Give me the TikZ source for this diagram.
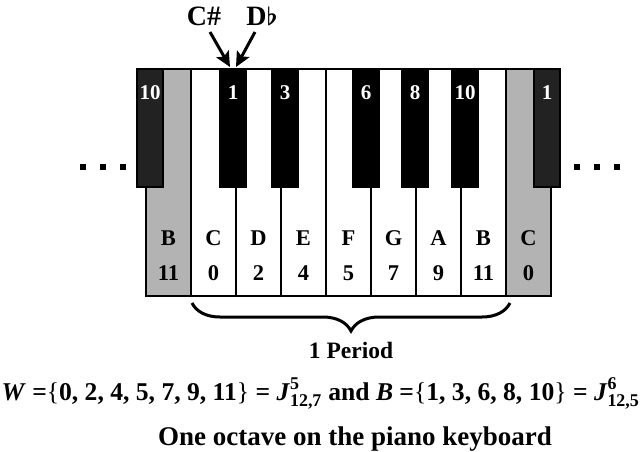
\documentclass[tikz,border=0pt]{standalone}
\usepackage{fontspec}
\setmainfont{Liberation Serif}
\usepackage{amsmath}
\usetikzlibrary{arrows.meta, decorations.pathreplacing, positioning}

\newcommand{\keyfont}{\fontsize{22.5}{24}\selectfont\bfseries}
\newcommand{\topfont}{\fontsize{21}{23}\selectfont\bfseries}
\newcommand{\bigfont}{\fontsize{28}{30}\selectfont\bfseries}
\newcommand{\eqfont}{\fontsize{25.6}{28}\selectfont\bfseries}
\newcommand{\capfont}{\fontsize{27}{29}\selectfont\bfseries}

\begin{document}
\begin{tikzpicture}[x=1pt, y=-1pt, font=\bfseries]
  \definecolor{g}{HTML}{B3B3B3}
  \definecolor{k}{HTML}{222222}
  \def\whitekeys{0/C/0, 1/D/2, 2/E/4, 3/F/5, 4/G/7, 5/A/9, 6/B/11}
  \def\blackkeys{220/1, 272/3, 353/6, 402/8, 452/10}
  \tikzset{
    key/.style={draw, line width=1.2pt, rectangle, anchor=north west, inner sep=0pt, outer sep=0pt},
    wkey/.style={key, fill=white, minimum width=45pt, minimum height=227pt},
    gkey/.style={wkey, fill=g},
    bkey/.style={key, fill=black, minimum width=26pt, minimum height=118pt},
    pointer/.style={line width=3pt, -{Stealth[length=15pt, width=14pt, inset=3pt]}}
  }
  \useasboundingbox (0,0) rectangle (641,451);

  % white and grey keys
  \node (bprev) at (146,69) [gkey] {};
  \node (cnext) at (506,69) [gkey] {};
  \foreach \i/\l/\p in \whitekeys {
      \node (w\i) at (191+45*\i, 69) [wkey] {};
  }

  % black keys
  \node (aprev) at (137,69) [bkey, fill=k] {};
  \node (cnextsharp) at (534,69) [bkey, fill=k] {};
  \foreach \x/\p in \blackkeys {
      \node (b\p) at (\x, 69) [bkey] {};
      \node (bn\p) at (\x+13, 99) [anchor=base, text=white, font=\topfont] {\p};
  }
  \node (an) at (150,99) [anchor=base, text=white, font=\topfont] {10};
  \node (cn) at (547,99) [anchor=base, text=white, font=\topfont] {1};

  % key names and numbers
  \scoped [every node/.style={anchor=base, font=\keyfont}] {
      \foreach \i/\l/\p in \whitekeys {
          \node (l\i) at (213.5+45*\i, 245) {\l};
          \node (p\i) at (213.5+45*\i, 280) {\p};
      }
      \node (lb) at (168.5, 245) {B};
      \node (pb) at (168.5, 280) {11};
      \node (lc) at (528.5, 245) {C};
      \node (pc) at (528.5, 280) {0};
  }

  % dots
  \foreach \x [count=\i] in {83, 103, 123, 577, 597, 617} {
      \node (dot\i) at (\x, 167) [fill, minimum size=5.5pt, inner sep=0pt] {};
  }

  % C sharp / D flat
  \node (csharp) at (204,25) [anchor=base, font=\bigfont] {C\#};
  \node (dflat) at (262,25) [anchor=base, font=\bigfont\boldmath] {D$\flat$};
  \coordinate (t1) at (230,67);
  \coordinate (t2) at (236,67);
  \draw [pointer] ([xshift=6pt, yshift=-7pt]csharp.base) -- (t1);
  \draw [pointer] ([xshift=-7pt, yshift=-7pt]dflat.base) -- (t2);

  % period brace
  \coordinate (bl) at (192,303);
  \coordinate (br) at (510,303);
  \draw [decorate, decoration={brace, mirror, amplitude=28pt}, line width=3pt] (bl) -- (br);
  \node (period) at (351,358) [anchor=base, font=\fontsize{23.5}{25}\selectfont\bfseries] {1 Period};

  \node (formula) at (320.5,400) [anchor=base, font=\eqfont] {\textit{W} ={\mdseries\{}0, 2, 4, 5, 7, 9, 11{\mdseries\}} = $\textbf{\textit{J}}^{\textbf{5}}_{\textbf{12,7}}$ and \textit{B} ={\mdseries\{}1, 3, 6, 8, 10{\mdseries\}} = $\textbf{\textit{J}}^{\textbf{6}}_{\textbf{12,5}}$};
  \node (caption) at (355,445) [anchor=base, font=\capfont] {One octave on the piano keyboard};
\end{tikzpicture}
\end{document}
